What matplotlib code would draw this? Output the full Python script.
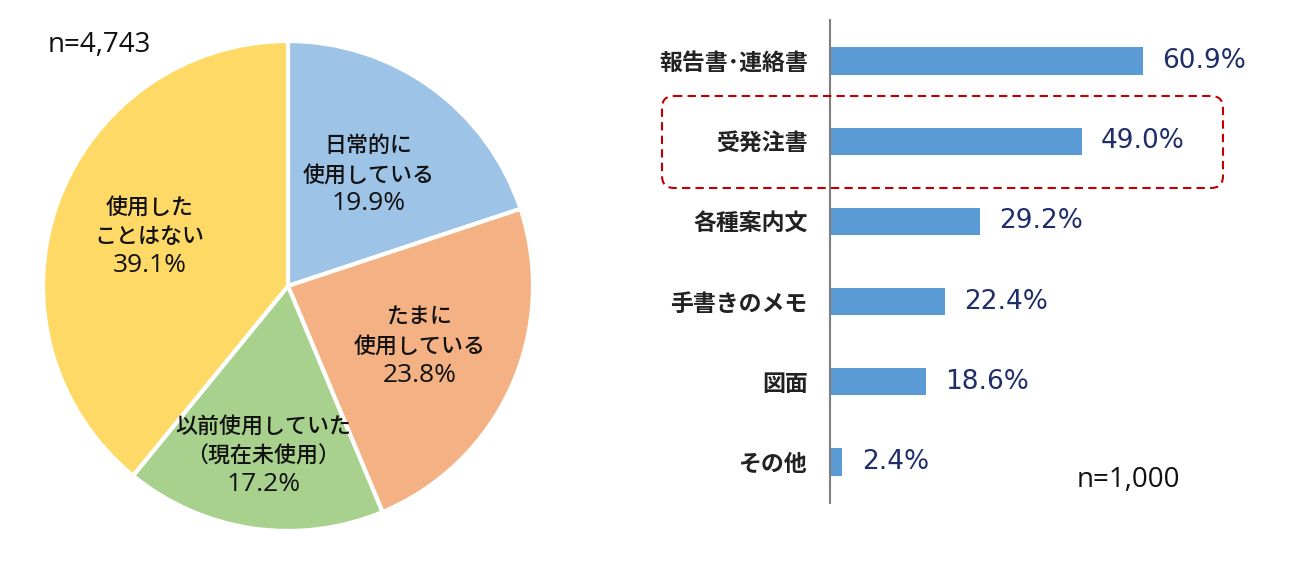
import matplotlib
matplotlib.use("Agg")
import matplotlib.pyplot as plt
import numpy as np
from matplotlib.patches import FancyBboxPatch

plt.rcParams["font.family"] = ["Open Sans", "Noto Sans CJK JP", "DejaVu Sans"]
JP = ["Noto Sans CJK JP", "DejaVu Sans"]

# Pie data
pie_labels = [["日常的に", "使用している"], ["たまに", "使用している"],
              ["以前使用していた", "（現在未使用）"], ["使用した", "ことはない"]]
pie_values = [19.9, 23.8, 17.2, 39.1]
pie_colors = ["#9DC3E6", "#F4B183", "#A9D18E", "#FFD966"]
pie_n = "n=4,743"

# Bar data
bar_labels = ["報告書･連絡書", "受発注書", "各種案内文", "手書きのメモ", "図面", "その他"]
bar_values = [60.9, 49.0, 29.2, 22.4, 18.6, 2.4]
bar_n = "n=1,000"

W, H = 1300, 561
fig = plt.figure(figsize=(13, 5.61), dpi=100)

# Pie chart (center ~ (288, 286) px, radius ~245 px)
ax1 = fig.add_axes([43 / W, 30 / H, 490 / W, 490 / H])
wedges, _ = ax1.pie(pie_values, colors=pie_colors, startangle=90, counterclock=False,
                    radius=1, wedgeprops=dict(edgecolor="white", linewidth=3))
ax1.set_xlim(-1, 1)
ax1.set_ylim(-1, 1)
ax1.set_aspect("equal")
dists = [0.56, 0.59, 0.70, 0.60]
step = 21  # points between lines
for w, lines, v, d in zip(wedges, pie_labels, pie_values, dists):
    ang = np.deg2rad((w.theta1 + w.theta2) / 2)
    pos = (d * np.cos(ang), d * np.sin(ang))
    ax1.annotate(lines[0], pos, xytext=(0, step), textcoords="offset points", ha="center", va="center",
                 fontsize=15.8, fontweight="medium", family=JP, color="#111111")
    ax1.annotate(lines[1], pos, xytext=(0, 0), textcoords="offset points", ha="center", va="center",
                 fontsize=15.8, fontweight="medium", family=JP, color="#111111")
    ax1.annotate(f"{v:.1f}%", pos, xytext=(0, -step), textcoords="offset points", ha="center", va="center",
                 fontsize=19, color="#111111")

# Bar chart
ax2 = fig.add_axes([830 / W, 58 / H, 411 / W, 483 / H])
y = np.arange(len(bar_labels))
ax2.barh(y, bar_values, height=0.34, color="#5B9BD5")
ax2.set_xlim(0, 80)
ax2.set_ylim(5.51, -0.51)
ax2.set_yticks(y)
ax2.set_yticklabels(bar_labels, fontsize=16.5, fontweight="bold", family=JP, color="#222222")
ax2.tick_params(axis="y", length=0, pad=16)
ax2.set_xticks([])
for s in ["top", "right", "bottom"]:
    ax2.spines[s].set_visible(False)
ax2.spines["left"].set_color("#7f7f7f")
ax2.spines["left"].set_linewidth(1.5)
for yi, v in zip(y, bar_values):
    ax2.annotate(f"{v:.1f}%", (v, yi), xytext=(14, 0), textcoords="offset points",
                 ha="left", va="center", fontsize=19, family="DejaVu Sans", color="#1F2D6B")

# Overlay for annotations in pixel coordinates
ov = fig.add_axes([0, 0, 1, 1])
ov.set_xlim(0, W)
ov.set_ylim(H, 0)
ov.axis("off")
ov.patch.set_alpha(0)
box = FancyBboxPatch((662, 96), 561, 92, boxstyle="round,pad=0,rounding_size=12",
                     fill=False, edgecolor="#C00000", linestyle=(0, (4, 2.5)), linewidth=1.5)
ov.add_patch(box)
ov.text(48, 45, pie_n, ha="left", va="center", fontsize=20, color="#111111")
ov.text(1077, 480, bar_n, ha="left", va="center", fontsize=20, color="#111111")

fig.savefig("out.png", dpi=100, facecolor="white")
